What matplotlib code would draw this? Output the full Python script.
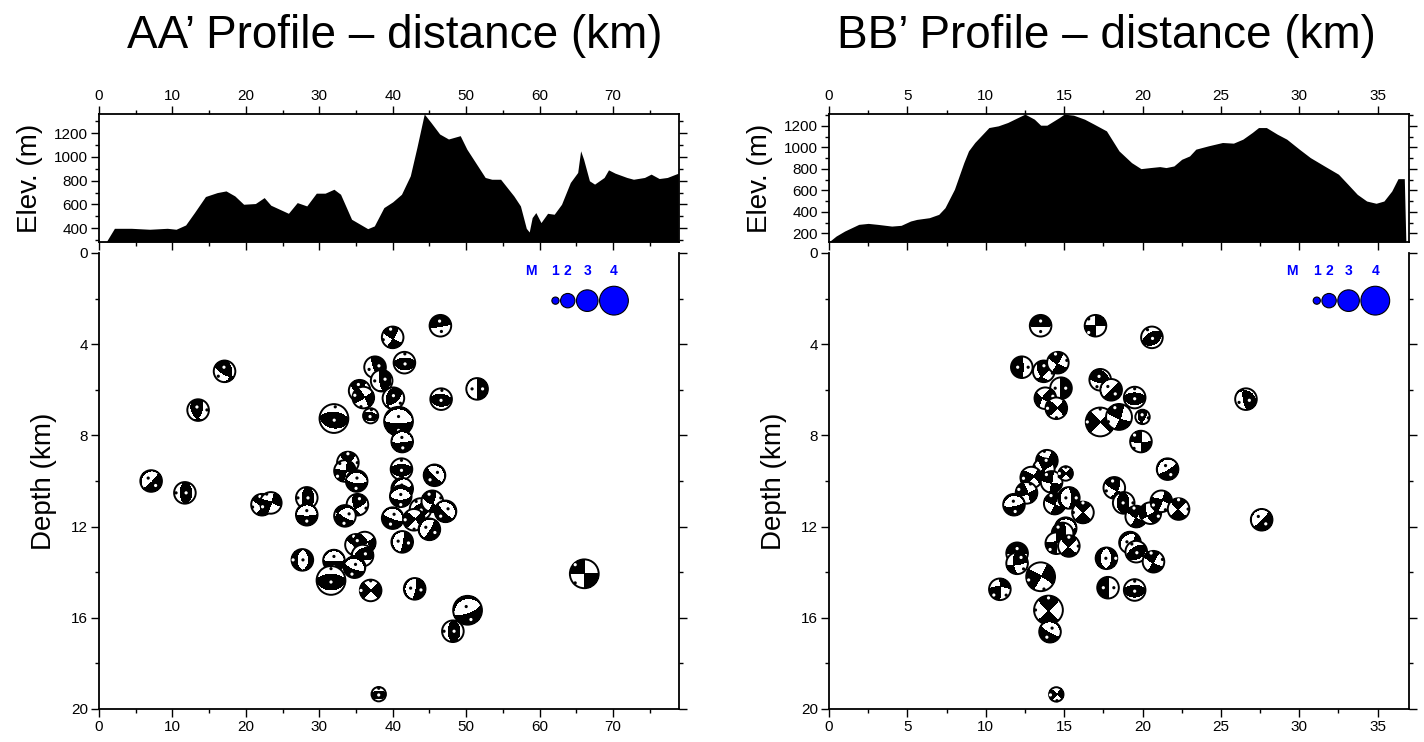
import numpy as np
import matplotlib.pyplot as plt
import matplotlib.patches as mpatches
import matplotlib.transforms as mtransforms
from matplotlib.ticker import MultipleLocator

plt.rcParams['font.family'] = ['Liberation Sans', 'DejaVu Sans']

# ---- topography along the profiles (km, m) ----
aa_dist = [0, 1.0, 2.1, 4.4, 6.9, 9.3, 10.5, 11.8, 13.0, 14.5, 16.1, 17.3, 18.5, 19.7, 21.3,
           22.5, 23.4, 24.6, 25.8, 27.0, 28.3, 29.6, 30.8, 32.0, 32.9, 34.4, 36.6, 37.5,
           38.8, 40.0, 41.2, 42.4, 43.3, 44.3, 45.2, 46.4, 47.6, 49.2, 50.1, 52.6, 53.5,
           54.7, 56.5, 57.4, 58.2, 58.6, 59.0, 59.5, 60.2, 61.1, 62.0, 63.0, 64.2, 65.2,
           65.6, 66.0, 66.8, 67.5, 68.8, 69.4, 70.3, 71.9, 72.8, 74.3, 75.2, 76.3, 77.4, 78.9]
aa_elev = [288, 288, 400, 400, 392, 400, 392, 428, 532, 667, 700, 714, 672, 602, 608,
           658, 594, 560, 526, 616, 588, 695, 695, 728, 686, 476, 397, 420,
           574, 622, 686, 841, 1079, 1360, 1290, 1192, 1150, 1178, 1065, 827, 812,
           812, 672, 588, 400, 369, 490, 532, 448, 526, 518, 602, 785, 869,
           1051, 981, 799, 771, 827, 891, 863, 827, 812, 827, 855, 818, 827, 863]

bb_dist = [0, 0.45, 1.0, 1.9, 2.5, 3.1, 4.0, 4.6, 5.2, 5.6, 6.4, 7.0, 7.4, 8.0, 8.6, 8.9,
           9.3, 10.2, 10.8, 11.4, 12.5, 13.1, 13.5, 13.9, 14.7, 15.0, 15.6, 16.3, 16.9,
           17.7, 18.5, 19.3, 19.9, 20.5, 21.1, 21.5, 22.0, 22.5, 23.0, 23.4, 24.2, 25.1,
           25.8, 26.4, 27.0, 27.4, 27.9, 28.6, 29.2, 30.0, 30.7, 31.6, 32.5, 33.1, 33.7,
           34.3, 34.9, 35.4, 35.9, 36.3, 36.7, 36.8]
bb_elev = [122, 175, 222, 284, 293, 284, 268, 275, 315, 330, 346, 377, 439, 610, 858, 967,
           1045, 1184, 1200, 1231, 1309, 1262, 1206, 1206, 1278, 1309, 1299, 1262, 1216,
           1153, 967, 858, 802, 812, 821, 812, 827, 889, 920, 983, 1014, 1045,
           1039, 1076, 1138, 1184, 1184, 1122, 1076, 983, 905, 827, 750, 657, 563,
           501, 480, 501, 594, 709, 709, 120]

# ---- focal mechanisms: distance (km), depth (km), magnitude, strike, dip, rake ----
aa_x = [46.5, 40.0, 41.6, 17.1, 37.6, 38.5, 51.5, 35.5, 36.0, 40.1, 46.6, 13.5, 37.0, 32.0,
        40.8, 41.3, 33.9, 33.5, 35.1, 41.2, 45.7, 7.1, 11.7, 41.3, 41.1, 22.2, 23.4, 28.3,
        28.3, 35.2, 33.5, 40.0, 43.8, 45.4, 47.2, 42.9, 45.0, 41.3, 35.0, 36.2, 27.7, 32.0,
        35.9, 34.8, 31.6, 37.0, 43.0, 50.2, 48.2, 66.1, 38.1]
aa_z = [3.19, 3.70, 4.81, 5.19, 5.01, 5.60, 5.96, 6.04, 6.34, 6.37, 6.41, 6.89, 7.14, 7.26,
        7.38, 8.27, 9.19, 9.56, 10.0, 9.48, 9.75, 10.0, 10.52, 10.34, 10.67, 11.04, 10.96, 10.74,
        11.48, 11.04, 11.53, 11.63, 11.23, 10.89, 11.33, 11.70, 12.12, 12.67, 12.8, 12.7, 13.46, 13.49,
        13.27, 13.78, 14.36, 14.8, 14.73, 15.67, 16.59, 14.07, 19.35]
aa_mag = [3.0, 3.0, 3.0, 3.0, 3.0, 3.0, 3.0, 3.0, 3.0, 3.0, 3.0, 3.0, 2.1, 4.0,
          4.0, 3.0, 3.0, 3.0, 3.0, 3.0, 3.0, 3.0, 3.0, 3.0, 3.0, 3.0, 3.0, 3.0,
          3.0, 3.0, 3.0, 3.0, 3.0, 3.0, 3.0, 3.0, 3.0, 3.0, 3.0, 3.0, 3.0, 3.0,
          3.0, 3.0, 4.0, 3.0, 3.0, 4.0, 3.0, 4.0, 2.0]
aa_strike = [80, 30, 100, 120, 160, 170, 0, 30, 60, 50, 95, 20, 90, 100,
             90, 85, 45, 10, 95, 90, 135, 45, 0, 70, 90, 30, 20, 0,
             90, 60, 120, 110, 60, 20, 135, 45, 30, 10, 30, 60, 0, 90,
             100, 110, 90, 45, 10, 70, 0, 0, 90]
aa_dip = [85, 80, 35, 70, 80, 75, 88, 70, 85, 60, 35, 60, 35, 35,
          75, 80, 85, 80, 70, 35, 80, 80, 35, 75, 60, 80, 85, 35,
          80, 70, 75, 80, 35, 80, 75, 85, 80, 80, 85, 80, 40, 80,
          60, 70, 35, 88, 80, 70, 35, 89, 35]
aa_rake = [90, 170, 100, 60, 90, 80, -90, 150, 10, 110, 90, 120, 80, 95,
           -90, -90, 170, 0, -90, 90, -90, -90, 90, -80, -90, 170, 5, 90,
           -90, 150, -60, -90, 90, 160, -90, 10, -90, -90, 170, 20, -90, -90,
           120, -90, 90, 0, -90, -90, 90, 180, 90]

bb_x = [13.5, 17.0, 20.6, 12.3, 13.7, 14.6, 14.8, 13.8, 14.5, 17.3, 18.0, 19.5, 20.0, 17.3,
        18.5, 19.9, 26.6, 21.6, 13.9, 13.7, 12.9, 14.2, 15.1, 12.6, 11.8, 14.4, 15.3, 16.2,
        15.1, 18.2, 18.8, 19.6, 20.5, 21.2, 22.3, 27.6, 14.9, 14.5, 15.3, 12.0, 12.0, 13.5,
        10.9, 14.0, 14.1, 17.7, 19.2, 19.6, 20.7, 17.8, 19.5, 14.5]
bb_z = [3.19, 3.19, 3.70, 5.01, 5.19, 4.81, 5.93, 6.37, 6.81, 5.56, 6.0, 6.34, 7.19, 7.41,
        7.19, 8.27, 6.41, 9.48, 9.11, 9.48, 9.85, 10.04, 9.67, 10.52, 11.04, 10.99, 10.74, 11.38,
        12.07, 10.30, 10.96, 11.56, 11.41, 10.89, 11.23, 11.70, 12.3, 12.73, 12.85, 13.17, 13.61, 14.2,
        14.75, 15.66, 16.61, 13.39, 12.7, 13.1, 13.54, 14.68, 14.78, 19.36]
bb_mag = [3.0, 3.0, 3.0, 3.0, 3.0, 3.0, 3.0, 3.0, 3.0, 3.0, 3.0, 3.0, 2.0, 4.0,
          3.6, 3.0, 3.0, 3.0, 3.0, 3.0, 3.0, 3.0, 2.0, 3.0, 3.0, 3.0, 3.0, 3.0,
          3.0, 3.0, 3.0, 3.0, 3.0, 3.0, 3.0, 3.0, 3.0, 3.0, 3.0, 3.0, 3.0, 4.0,
          3.0, 4.0, 3.0, 3.0, 3.0, 3.0, 3.0, 3.0, 3.0, 2.0]
bb_strike = [90, 0, 60, 0, 45, 30, 180, 120, 45, 100, 45, 90, 30, 45,
             20, 0, 170, 60, 30, 60, 40, 10, 45, 70, 80, 20, 0, 45,
             90, 120, 0, 30, 60, 20, 45, 45, 100, 0, 45, 90, 80, 30,
             0, 45, 120, 0, 30, 60, 30, 0, 90, 40]
bb_dip = [85, 88, 35, 80, 70, 88, 85, 80, 85, 70, 85, 35, 60, 89,
          80, 85, 70, 80, 85, 85, 80, 88, 85, 80, 75, 85, 70, 88,
          75, 80, 50, 85, 80, 85, 88, 85, 80, 85, 85, 85, 80, 88,
          88, 85, 80, 50, 70, 35, 88, 85, 35, 85]
bb_rake = [90, 0, 90, 90, 140, 170, 90, 160, 10, 70, -90, 90, 120, 0,
           170, 175, 110, -90, 5, 175, 20, 170, 0, 10, -90, 170, -90, 180,
           -90, 30, 90, 170, -30, 10, 175, -90, 20, 10, 170, 90, 150, 5,
           20, 175, -90, -90, -100, 90, 170, 90, 90, 10]

legend_mags = [1, 2, 3, 4]

W, H = 1424, 742
fig = plt.figure(figsize=(W / 100, H / 100), dpi=100)


def box(x0, y0, x1, y1):
    return [x0 / W, 1 - y1 / H, (x1 - x0) / W, (y1 - y0) / H]


# unit-disc grid for the beachballs (lower hemisphere, equal area)
RR, TT = np.meshgrid(np.linspace(0, 1, 40), np.linspace(0, 2 * np.pi, 181))
UU = RR * np.sin(TT)
VV = RR * np.cos(TT)
INC = 2 * np.arcsin(RR / np.sqrt(2))
GAM = np.stack([np.sin(INC) * np.cos(TT), np.sin(INC) * np.sin(TT), np.cos(INC)])


def fault_vectors(strike, dip, rake):
    s, d, r = np.radians([strike, dip, rake])
    n = np.array([-np.sin(d) * np.sin(s), np.sin(d) * np.cos(s), -np.cos(d)])
    sl = np.array([np.cos(r) * np.cos(s) + np.cos(d) * np.sin(r) * np.sin(s),
                   np.cos(r) * np.sin(s) - np.cos(d) * np.sin(r) * np.cos(s),
                   -np.sin(r) * np.sin(d)])
    return n, sl


def project(vec):
    if vec[2] < 0:
        vec = -vec
    inc = np.arccos(np.clip(vec[2], -1, 1))
    az = np.arctan2(vec[1], vec[0])
    rr = np.sqrt(2) * np.sin(inc / 2)
    return rr * np.sin(az), rr * np.cos(az)


def beachball(ax, x, z, mag, strike, dip, rake, zo):
    rad = 3.6 * mag  # pixels
    trans = (mtransforms.Affine2D().scale(rad / 100) + fig.dpi_scale_trans
             + mtransforms.ScaledTranslation(x, z, ax.transData))
    n, sl = fault_vectors(strike, dip, rake)
    amp = np.tensordot(n, GAM, 1) * np.tensordot(sl, GAM, 1)
    ax.add_patch(mpatches.Circle((0, 0), 1, transform=trans, fc='white', ec='none', zorder=zo))
    ax.contourf(UU, VV, amp, levels=[0, 10], colors='k', transform=trans, zorder=zo + 0.1)
    ax.add_patch(mpatches.Circle((0, 0), 1, transform=trans, fc='none', ec='k', lw=1.4,
                                 zorder=zo + 0.2))
    dot = 1.6 / rad
    pu, pv = project((n - sl) / np.sqrt(2))
    tu, tv = project((n + sl) / np.sqrt(2))
    ax.add_patch(mpatches.Circle((pu * 0.9, pv * 0.9), dot, transform=trans, fc='k', ec='none',
                                 zorder=zo + 0.3))
    ax.add_patch(mpatches.Circle((tu * 0.9, tv * 0.9), dot, transform=trans, fc='white',
                                 ec='none', zorder=zo + 0.3))


def style_ticks(ax):
    ax.tick_params(which='major', length=6, width=1.0, direction='out', labelsize=11, pad=2)
    ax.tick_params(which='minor', length=3, width=1.0, direction='out')
    for sp in ax.spines.values():
        sp.set_linewidth(1.3)


panels = [
    dict(left=99, title="AA\u2019 Profile \u2013 distance (km)", tx=395, dist=aa_dist,
         elev=aa_elev, ylim=(285, 1360), xmax=79, xmaj=10, xmin=5,
         x=aa_x, z=aa_z, mag=aa_mag, strike=aa_strike, dip=aa_dip, rake=aa_rake, leg=0.787),
    dict(left=829, title="BB\u2019 Profile \u2013 distance (km)", tx=1106, dist=bb_dist,
         elev=bb_elev, ylim=(120, 1310), xmax=37, xmaj=5, xmin=2.5,
         x=bb_x, z=bb_z, mag=bb_mag, strike=bb_strike, dip=bb_dip, rake=bb_rake, leg=0.841),
]

for p in panels:
    x0 = p['left']
    x1 = x0 + 580

    # elevation panel
    ax = fig.add_axes(box(x0, 114, x1, 242))
    ax.fill_between(p['dist'], p['elev'], p['ylim'][0], color='k', lw=0)
    ax.set_xlim(0, p['xmax'])
    ax.set_ylim(*p['ylim'])
    ax.xaxis.set_major_locator(MultipleLocator(p['xmaj']))
    ax.xaxis.set_minor_locator(MultipleLocator(p['xmin']))
    ax.yaxis.set_major_locator(MultipleLocator(200))
    ax.yaxis.set_minor_locator(MultipleLocator(100))
    style_ticks(ax)
    ax.tick_params(axis='x', which='both', top=True, bottom=True, labeltop=True, labelbottom=False)
    ax.tick_params(axis='y', which='both', left=True, right=True)
    ax.set_ylabel("Elev. (m)", fontsize=20, labelpad=8)
    fig.text(p['tx'] / W, 1 - 48 / H, p['title'], fontsize=33, ha='center', va='baseline')

    # depth section
    ax = fig.add_axes(box(x0, 253, x1, 709))
    ax.set_xlim(0, p['xmax'])
    ax.set_ylim(20, 0)
    ax.spines['top'].set_visible(False)
    ax.xaxis.set_major_locator(MultipleLocator(p['xmaj']))
    ax.xaxis.set_minor_locator(MultipleLocator(p['xmin']))
    ax.yaxis.set_major_locator(MultipleLocator(4))
    ax.yaxis.set_minor_locator(MultipleLocator(2))
    style_ticks(ax)
    ax.tick_params(axis='x', which='both', top=False, bottom=True)
    ax.tick_params(axis='y', which='both', left=True, right=True)
    ax.set_ylabel("Depth (km)", fontsize=20, labelpad=10)

    for i in range(len(p['x'])):
        beachball(ax, p['x'][i], p['z'][i], p['mag'][i], p['strike'][i], p['dip'][i],
                  p['rake'][i], zo=3 + i)

    # magnitude legend
    off = 0.0
    prev = None
    tr = (fig.dpi_scale_trans
          + mtransforms.ScaledTranslation(p['leg'], 1 - 2.09 / 20, ax.transAxes))
    for k, m in enumerate(legend_mags):
        r = 3.6 * m
        if prev is not None:
            off += prev + r + 1.5
        prev = r
        ax.add_patch(mpatches.Circle((off / 100, 0), r / 100, transform=tr, fc='blue',
                                     ec='k', lw=0.8, zorder=200))
        ax.text(off / 100, 29.5 / 100, str(m), transform=tr, color='blue', fontsize=10,
                fontweight='bold', ha='center', va='center', zorder=200)
    ax.text(-24.5 / 100, 29.5 / 100, "M", transform=tr, color='blue', fontsize=10,
            fontweight='bold', ha='center', va='center', zorder=200)

fig.savefig("out.png", dpi=100)
